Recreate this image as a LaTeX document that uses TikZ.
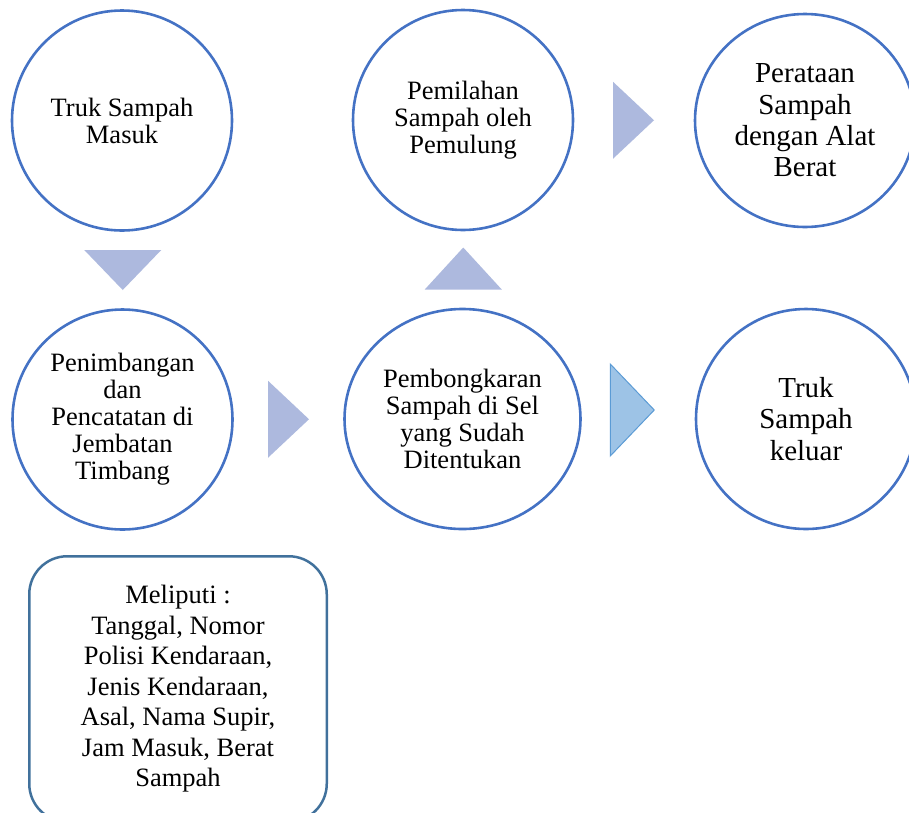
\documentclass[tikz,border=0pt]{standalone}
\usepackage{fontspec}
\setmainfont{Liberation Serif}
\usepackage{tikz}
\usetikzlibrary{shapes.geometric, calc}
\definecolor{garis}{HTML}{4472C4}
\definecolor{segitiga}{HTML}{ADB9DE}
\definecolor{segibiru}{HTML}{9DC3E6}
\definecolor{tepibiru}{HTML}{5B9BD5}
\definecolor{kotak}{HTML}{41719C}
\tikzstyle{proses} = [ellipse, minimum width=220pt, minimum height=220pt, inner sep=0pt, align=center, draw=garis, line width=2.6pt, font=\fontsize{26.5}{27}\selectfont]
\tikzstyle{besar} = [font=\fontsize{29}{31.3}\selectfont]
\tikzstyle{panah} = [fill=segitiga]
\tikzstyle{panahbiru} = [fill=segibiru, draw=tepibiru, line width=1pt]
\tikzstyle{catatan} = [rectangle, rounded corners=38pt, minimum width=297.5pt, minimum height=265.5pt, align=center, draw=kotak, line width=2.5pt, font=\fontsize{26.5}{30.5}\selectfont]

\begin{document}
\begin{tikzpicture}[x=1pt, y=-1pt]
	\useasboundingbox (0,0) rectangle (909,812);
	\node (masuk) [proses] at (122,120.5) {Truk Sampah\\Masuk};
	\node (pilah) [proses] at (463,120) {Pemilahan\\Sampah oleh\\Pemulung};
	\node (rata) [proses, besar, minimum height=213pt] at (805,120.5) {Perataan\\Sampah\\dengan Alat\\Berat};
	\node (timbang) [proses] at (122.5,419.5) {Penimbangan\\dan\\Pencatatan di\\Jembatan\\Timbang};
	\node (bongkar) [proses, minimum width=236pt] at (462.5,419) {Pembongkaran\\Sampah di Sel\\yang Sudah\\Ditentukan};
	\node (keluar) [proses, besar] at (806,419) {Truk\\Sampah\\keluar};
	\node (rincian) [catatan] at (178,689) {Meliputi :\\Tanggal, Nomor\\Polisi Kendaraan,\\Jenis Kendaraan,\\Asal, Nama Supir,\\Jam Masuk, Berat\\Sampah};
	
	% segitiga penunjuk alur
	\fill [panah] ($(masuk)!0.5!(timbang)$) ++(-38,-20) -- ++(77,0) -- ++(-38.5,40) -- cycle;
	\fill [panah] ($(timbang)!0.5!(bongkar)$) ++(-24.5,-38.5) -- ++(0,77) -- ++(41,-38.5) -- cycle;
	\fill [panah] ($(bongkar)!0.5!(pilah)$) ++(-38,20) -- ++(77,0) -- ++(-38.5,-42) -- cycle;
	\fill [panah] ($(pilah)!0.5!(rata)$) ++(-21,-38.5) -- ++(0,77) -- ++(41,-38.5) -- cycle;
	\filldraw [panahbiru] ($(bongkar)!0.5!(keluar)$) ++(-24,-55) -- ++(0,92) -- ++(44,-46) -- cycle;
\end{tikzpicture}
\end{document}
